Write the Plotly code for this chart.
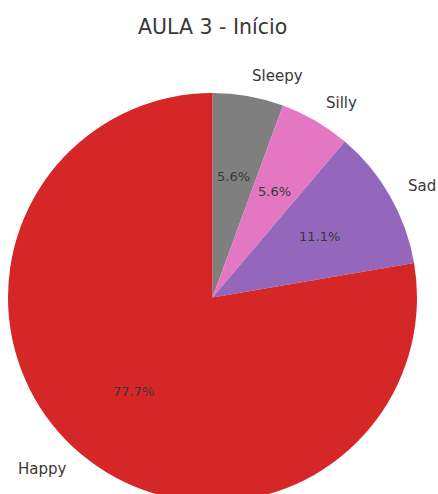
import math
import plotly.graph_objects as go

# Mood survey, session 3 (start)
labels = ["Sleepy", "Silly", "Sad", "Happy"]
values = [5.6, 5.6, 11.1, 77.7]
pct_labels = ["5.6%", "5.6%", "11.1%", "77.7%"]
colors = ["#7f7f7f", "#e377c2", "#9467bd", "#d62728"]

W, H = 438, 510
CX, CY, R = 212.5, 297.5, 204.5   # pie centre / radius in pixels
TXT = "#383838"
FONT = "DejaVu Sans"

fig = go.Figure(go.Pie(
    labels=labels,
    values=values,
    sort=False,
    direction="clockwise",
    rotation=0,
    marker=dict(colors=colors, line=dict(width=0)),
    textinfo="none",
    hoverinfo="label+percent",
    showlegend=False,
    domain=dict(x=[(CX - R) / W, (CX + R) / W],
                y=[1 - (CY + R) / H, 1 - (CY - R) / H]),
))

def to_paper(px, py):
    return px / W, 1 - py / H

annotations = []
total = sum(values)
start = 90.0
for lab, val, pct in zip(labels, values, pct_labels):
    span = 360.0 * val / total
    mid = math.radians(start - span / 2)
    start -= span
    c, s = math.cos(mid), math.sin(mid)
    # percentage inside the wedge
    x, y = to_paper(CX + 0.6 * R * c, CY - 0.6 * R * s)
    annotations.append(dict(x=x, y=y, xref="paper", yref="paper", text=pct,
                            showarrow=False, xanchor="center", yanchor="middle",
                            borderpad=0, borderwidth=0,
                            font=dict(family=FONT, size=13, color=TXT)))
    # category label outside the pie
    x, y = to_paper(CX + 1.1 * R * c, CY - 1.1 * R * s)
    annotations.append(dict(x=x, y=y, xref="paper", yref="paper", text=lab,
                            showarrow=False, borderpad=0, borderwidth=0,
                            xanchor="left" if c > 0 else "right", yanchor="middle",
                            font=dict(family=FONT, size=15, color=TXT)))

tx, ty = to_paper(CX, 27)
annotations.append(dict(x=tx, y=ty, xref="paper", yref="paper",
                        text="AULA 3 - Início", showarrow=False,
                        xanchor="center", yanchor="middle",
                        font=dict(family=FONT, size=20.5, color=TXT)))

fig.update_layout(
    width=W, height=H,
    margin=dict(l=0, r=0, t=0, b=0),
    paper_bgcolor="white",
    plot_bgcolor="white",
    annotations=annotations,
)

fig.write_html("out.html",
               post_script="document.body.style.overflow='hidden';document.body.style.margin='0';")
